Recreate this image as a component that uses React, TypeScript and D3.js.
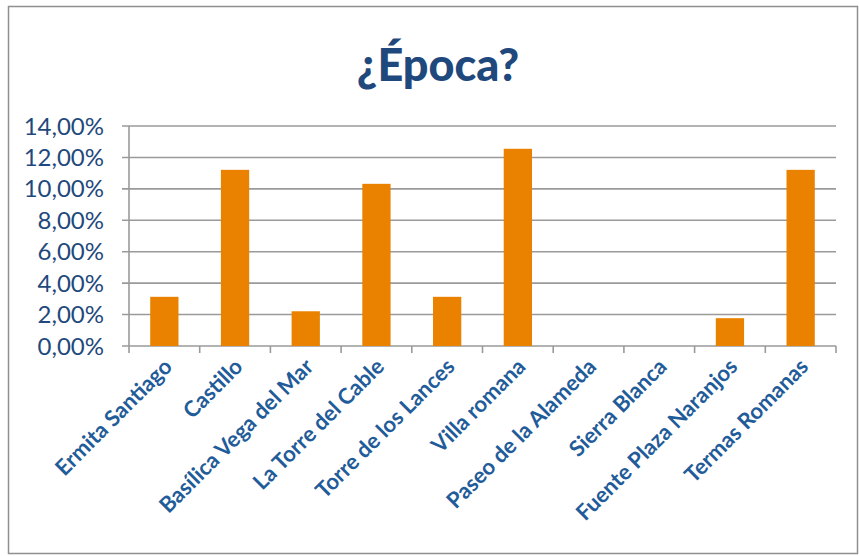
import React from "react";
import * as d3 from "d3";

const categories = [
  "Ermita Santiago",
  "Castillo",
  "Basílica Vega del Mar",
  "La Torre del Cable",
  "Torre de los Lances",
  "Villa romana",
  "Paseo de la Alameda",
  "Sierra Blanca",
  "Fuente Plaza Naranjos",
  "Termas Romanas",
];
const values = [3.13, 11.21, 2.21, 10.32, 3.13, 12.55, 0, 0, 1.77, 11.21];
const yTicks = [0, 2, 4, 6, 8, 10, 12, 14];
const title = "¿Época?";

const W = 859;
const H = 556;
const left = 129;
const right = 836;
const top = 126;
const bottom = 346;

export default function App() {
  const x = d3.scaleBand<string>().domain(categories).range([left, right]).paddingInner(0.6).paddingOuter(0.3);
  const xb = d3.scaleBand<string>().domain(categories).range([left, right]);
  const y = d3.scaleLinear().domain([0, 14]).range([bottom, top]);
  const fmt = (v: number) => v.toFixed(2).replace(".", ",") + "%";
  const font = "Lato, 'Open Sans', sans-serif";
  const grid = "#9a9a9a";
  return (
    <svg width={W} height={H} style={{ position: "absolute", left: 0, top: 0, background: "#fff" }}>
      <rect x={8.5} y={6.5} width={849} height={547} fill="#fff" stroke="#8f8f8f" strokeWidth={1.5} />
      <text x={438} y={81} textAnchor="middle" fontFamily={font} fontWeight={900} fontSize={45} fill="#1F497D">
        {title}
      </text>
      {yTicks.map((t) => (
        <g key={t}>
          <line x1={left - 7} x2={right} y1={y(t)} y2={y(t)} stroke={grid} strokeWidth={1.6} />
          <text x={104} y={y(t)} dy="0.36em" textAnchor="end" fontFamily={font} fontSize={24} fill="#1F497D">
            {fmt(t)}
          </text>
        </g>
      ))}
      <line x1={left} x2={left} y1={top} y2={bottom} stroke={grid} strokeWidth={1.6} />
      {categories.map((c, i) => (
        <line key={"t" + i} x1={xb(c)!} x2={xb(c)!} y1={bottom} y2={bottom + 7} stroke={grid} strokeWidth={1.6} />
      ))}
      <line x1={right} x2={right} y1={bottom} y2={bottom + 7} stroke={grid} strokeWidth={1.6} />
      {categories.map((c, i) =>
        values[i] > 0 ? (
          <rect key={"b" + i} x={x(c)!} y={y(values[i])} width={x.bandwidth()} height={bottom - y(values[i])} fill="#EA8200" />
        ) : null
      )}
      {categories.map((c, i) => {
        const cx = xb(c)! + xb.bandwidth() / 2;
        return (
          <text
            key={"l" + i}
            transform={`translate(${cx + 9},${bottom + 22}) rotate(-45)`}
            textAnchor="end"
            fontFamily={font}
            fontWeight={700}
            fontSize={22}
            fill="#1F5C99"
          >
            {c}
          </text>
        );
      })}
    </svg>
  );
}
